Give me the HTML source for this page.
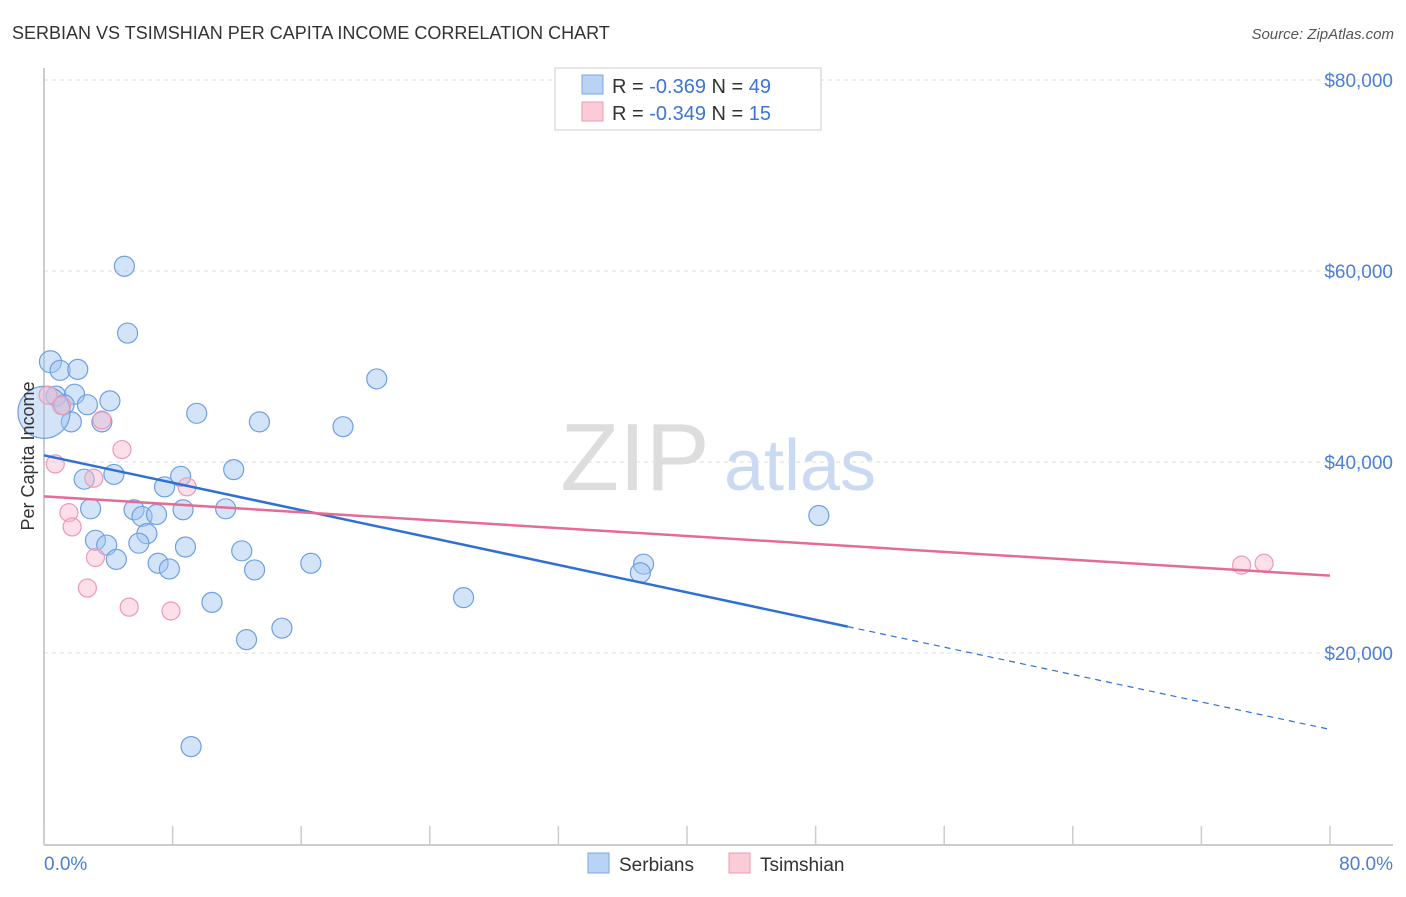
<!DOCTYPE html>
<html><head><meta charset="utf-8"><style>
body{margin:0;background:#fff;font-family:"Liberation Sans",sans-serif}
svg text{font-family:"Liberation Sans",sans-serif}
</style></head><body>
<svg width="1406" height="892" viewBox="0 0 1406 892" xmlns="http://www.w3.org/2000/svg">
<text x="12" y="39" font-size="18" fill="#333">SERBIAN VS TSIMSHIAN PER CAPITA INCOME CORRELATION CHART</text>
<text x="1394" y="39" font-size="15" fill="#555" font-style="italic" text-anchor="end">Source: ZipAtlas.com</text>
<g><text x="635" y="490" font-size="96" fill="#ddd" font-family="Liberation Serif" text-anchor="middle">ZIP</text><text x="800" y="490" font-size="72" fill="#c9daf2" text-anchor="middle">atlas</text></g>
<g id="grid"></g><g id="axes"></g><g id="marks"></g>
<text transform="translate(34,456) rotate(-90)" font-size="18" fill="#333" text-anchor="middle">Per Capita Income</text>
<text x="44" y="870" font-size="19" fill="#4a7fd6">0.0%</text>
<text x="1393" y="870" font-size="19" fill="#4a7fd6" text-anchor="end">80.0%</text>
<g>
<rect x="555" y="68" width="266" height="62" fill="#fff" stroke="#ccc"/>
<rect x="582" y="75" width="21" height="19" fill="#b9d3f5" stroke="#7aa7e6"/>
<rect x="582" y="102" width="21" height="19" fill="#fbcbd8" stroke="#ee9ab3"/>
<text x="612" y="93" font-size="20" fill="#333">R = <tspan fill="#3d74d6">-0.369</tspan>   N = <tspan fill="#3d74d6">49</tspan></text>
<text x="612" y="120" font-size="20" fill="#333">R = <tspan fill="#3d74d6">-0.349</tspan>   N = <tspan fill="#3d74d6"> 15</tspan></text>
</g>
<g>
<rect x="588" y="853" width="21" height="20" fill="#b9d3f5" stroke="#7aa7e6"/>
<text x="619" y="871" font-size="19" fill="#333">Serbians</text>
<rect x="729" y="853" width="21" height="20" fill="#fbcbd8" stroke="#ee9ab3"/>
<text x="760" y="871" font-size="19" fill="#333">Tsimshian</text>
</g>
</svg>
<script>
const yTicks=[20000,40000,60000,80000];
const yTickLabels=["$20,000","$40,000","$60,000","$80,000"];
const xTicks=[0,10,20,30,40,50,60,70,80,90,100].map(i=>i*0.8);
const serbX=[0.4,1.0,2.1,0.75,1.9,1.25,2.7,4.1,1.7,3.6,9.5,13.4,18.6,20.7,5.0,5.2,4.35,2.5,8.5,11.8,7.5,2.9,5.6,8.65,11.3,6.1,7.0,6.4,3.2,3.9,5.9,8.8,12.3,4.5,7.1,7.8,13.1,16.6,10.45,14.8,12.6,9.15,26.1,37.3,37.1,48.2,0.0];
const serbY=[50500,49600,49700,46900,47100,46000,46000,46400,44200,44200,45100,44200,43700,48700,60500,53500,38700,38200,38500,39200,37400,35100,35000,35000,35100,34300,34500,32500,31800,31300,31500,31100,30700,29800,29400,28800,28700,29400,25300,22600,21400,10200,25800,29300,28400,34400,45200];
const serbR=[11,10,10,10,10,10,10,10,10,10,10,10,10,10,10,10,10,10,10,10,10,10,10,10,10,10,10,10,10,10,10,10,10,10,10,10,10,10,10,10,10,10,10,10,10,10,26];
const tsimX=[0.25,1.1,3.6,4.85,0.7,3.1,8.9,1.55,1.75,3.2,2.7,5.3,7.9,74.5,75.9];
const tsimY=[47000,45900,44400,41300,39800,38300,37400,34700,33200,30000,26800,24800,24400,29200,29400];
const serbTrend=[40700,12000]; // values at 0% and 80%
const tsimTrend=[36400,28100];
const serbSolidEnd=50;
const NS='http://www.w3.org/2000/svg';
const X=p=>44+p*(1330-44)/80;
const Y=v=>844-v*(653-80)/60000;
function mk(t,a,parent){const e=document.createElementNS(NS,t);for(const k in a)e.setAttribute(k,a[k]);document.getElementById(parent).appendChild(e);return e;}
yTicks.forEach((v,i)=>{
 const l=mk('line',{x1:44,x2:1393,y1:Y(v),y2:Y(v),stroke:'#ddd','stroke-dasharray':'4,4'},'grid');
 
 
 const t=mk('text',{x:1393,y:Y(v)+7,'font-size':19,fill:'#4a7fd6','text-anchor':'end'},'grid');
 t.textContent=yTickLabels[i];
 
 
});
let a=mk('line',{x1:44,x2:44,y1:68,y2:845,stroke:'#bbb','stroke-width':1.5},'axes');


a=mk('line',{x1:44,x2:1393,y1:845,y2:845,stroke:'#bbb','stroke-width':1.5},'axes');


xTicks.forEach(p=>{const t=mk('line',{x1:X(p),x2:X(p),y1:826,y2:845,stroke:'#ccc','stroke-width':1.5},'axes');
 
 });
serbX.forEach((p,i)=>{const c=mk('circle',{cx:X(p),cy:Y(serbY[i]),r:serbR[i],fill:'rgba(160,195,240,0.45)',stroke:'#6d9fe3','stroke-width':1.2},'marks');
 
 });
tsimX.forEach((p,i)=>{const c=mk('circle',{cx:X(p),cy:Y(tsimY[i]),r:9,fill:'rgba(248,185,205,0.45)',stroke:'#ec9ab4','stroke-width':1.2},'marks');
 
 });
const sv=p=>serbTrend[0]+(serbTrend[1]-serbTrend[0])*p/80;
let l=mk('line',{x1:X(0),y1:Y(sv(0)),x2:X(serbSolidEnd),y2:Y(sv(serbSolidEnd)),stroke:'#2f6fd6','stroke-width':2.5},'marks');


l=mk('line',{x1:X(serbSolidEnd),y1:Y(sv(serbSolidEnd)),x2:X(80),y2:Y(sv(80)),stroke:'#2f6fd6','stroke-width':1.2,'stroke-dasharray':'6,5'},'marks');


l=mk('line',{x1:X(0),y1:Y(tsimTrend[0]),x2:X(80),y2:Y(tsimTrend[1]),stroke:'#e56b95','stroke-width':2.5},'marks');


</script>
</body></html>
